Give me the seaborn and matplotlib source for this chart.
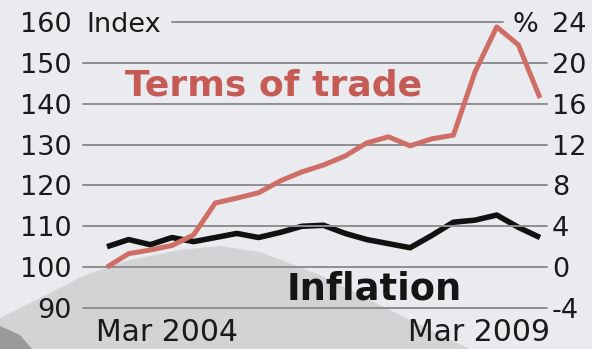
import matplotlib
matplotlib.use("Agg")
import matplotlib.pyplot as plt
import matplotlib.transforms as mtransforms
from matplotlib.patches import Polygon, Rectangle
import seaborn as sns
import pandas as pd

# ---- data ----
quarters = ["Mar 2004", "Jun 2004", "Sep 2004", "Dec 2004",
            "Mar 2005", "Jun 2005", "Sep 2005", "Dec 2005",
            "Mar 2006", "Jun 2006", "Sep 2006", "Dec 2006",
            "Mar 2007", "Jun 2007", "Sep 2007", "Dec 2007",
            "Mar 2008", "Jun 2008", "Sep 2008", "Dec 2008",
            "Mar 2009"]
terms_of_trade = [100.0, 103.3, 104.2, 105.3, 107.9, 115.7, 116.9, 118.2,
                  121.1, 123.3, 125.0, 127.2, 130.4, 131.9, 129.7, 131.4,
                  132.3, 147.8, 158.8, 154.4, 141.4]
inflation = [2.0, 2.7, 2.2, 2.9, 2.5, 2.9, 3.3, 2.9, 3.4, 4.0, 4.1, 3.3,
             2.7, 2.3, 1.9, 3.1, 4.4, 4.6, 5.1, 3.9, 2.9]
left_ticks = [90, 100, 110, 120, 130, 140, 150, 160]
right_ticks = [-4, 0, 4, 8, 12, 16, 20, 24]
x_labels = ["Mar 2004", "Mar 2009"]

df = pd.DataFrame({"q": range(len(quarters)), "quarter": quarters,
                   "tot": terms_of_trade, "inf": inflation})

sns.set_style("white")
plt.rcParams["font.family"] = ["DejaVu Sans"]

W, H = 603, 349
fig = plt.figure(figsize=(W / 100, H / 100), dpi=100)
bg = "#e9ebee"
fig.patch.set_facecolor(bg)

def fp(pts):
    return [(x / W, 1 - y / H) for x, y in pts]

# decorative background mound + white right strip
fig.add_artist(Polygon(fp([(0, 318), (40, 298), (83, 276), (130, 260), (180, 250),
                           (220, 246), (260, 252), (320, 275), (380, 305),
                           (440, 335), (470, 349), (0, 349)]),
                       closed=True, transform=fig.transFigure,
                       facecolor="#d2d3d5", edgecolor="none", zorder=-2))
fig.add_artist(Polygon(fp([(0, 326), (20, 335), (32, 349), (0, 349)]),
                       closed=True, transform=fig.transFigure,
                       facecolor="#9a9a9a", edgecolor="none", zorder=-1))
fig.add_artist(Rectangle((592 / W, 0), 1 - 592 / W, 1, transform=fig.transFigure,
                         facecolor="white", edgecolor="none", zorder=-1))

ax = fig.add_axes([83 / W, 41 / H, 464 / W, 286 / H])
ax2 = ax.twinx()
ax.set_zorder(ax2.get_zorder() + 1)
ax.patch.set_alpha(0)
ax2.patch.set_alpha(0)

grid_c = "#8e8e90"
for v in left_ticks:
    if v == left_ticks[-1]:
        ax.axhline(v, xmin=(172 - 83) / 464, xmax=(503 - 83) / 464,
                   color=grid_c, lw=1.4, clip_on=False, zorder=0)
    else:
        ax.axhline(v, color=grid_c, lw=1.4, clip_on=False, zorder=0)

sns.lineplot(data=df, x="q", y="inf", ax=ax2, color="#111111", lw=4.0,
             solid_joinstyle="round", solid_capstyle="butt")
sns.lineplot(data=df, x="q", y="tot", ax=ax, color="#cf6e67", lw=3.6,
             solid_joinstyle="round", solid_capstyle="butt")

n = len(quarters)
x0 = -(107 - 83) / 21.65
x1 = (n - 1) + (547 - 540) / 21.65
for a in (ax, ax2):
    a.set_xlim(x0, x1)
    a.set_xlabel("")
    a.set_ylabel("")
    for s in a.spines.values():
        s.set_visible(False)
    a.set_xticks([])

ax.set_ylim(90, 160)
ax2.set_ylim(-4, 24)
ax.set_yticks(left_ticks, [str(v) for v in left_ticks])
ax2.set_yticks(right_ticks, [str(v) for v in right_ticks])
ax.tick_params(axis="y", length=0, pad=8, labelsize=19.5, labelcolor="#1a1a1a")
ax2.tick_params(axis="y", length=0, pad=3.5, labelsize=19.5, labelcolor="#1a1a1a")

# x labels at the first and last quarter
bt = mtransforms.blended_transform_factory(ax.transData, ax.transAxes)
ax.text(quarters.index(x_labels[0]), -33 / 286, x_labels[0],
        transform=mtransforms.offset_copy(bt, fig=fig, x=-11, y=0, units="dots"),
        ha="left", va="baseline", fontsize=21.5, color="#1a1a1a")
ax.text(quarters.index(x_labels[1]), -33 / 286, x_labels[1],
        transform=mtransforms.offset_copy(bt, fig=fig, x=10, y=0, units="dots"),
        ha="right", va="baseline", fontsize=21.5, color="#1a1a1a")

fig.text(86 / W, 1 - 32 / H, "Index", ha="left", va="baseline",
         fontsize=19.5, color="#1a1a1a")
fig.text(513 / W, 1 - 32 / H, "%", ha="left", va="baseline",
         fontsize=19.5, color="#1a1a1a")

fig.text(125 / W, 1 - 95 / H, "Terms of trade", ha="left", va="baseline",
         fontsize=26, fontweight="bold", color="#c65a55")
fig.text(287 / W, 1 - 300 / H, "Inflation", ha="left", va="baseline",
         fontsize=26.5, fontweight="bold", color="#151515")

fig.savefig("out.png", dpi=100, facecolor=fig.get_facecolor())
